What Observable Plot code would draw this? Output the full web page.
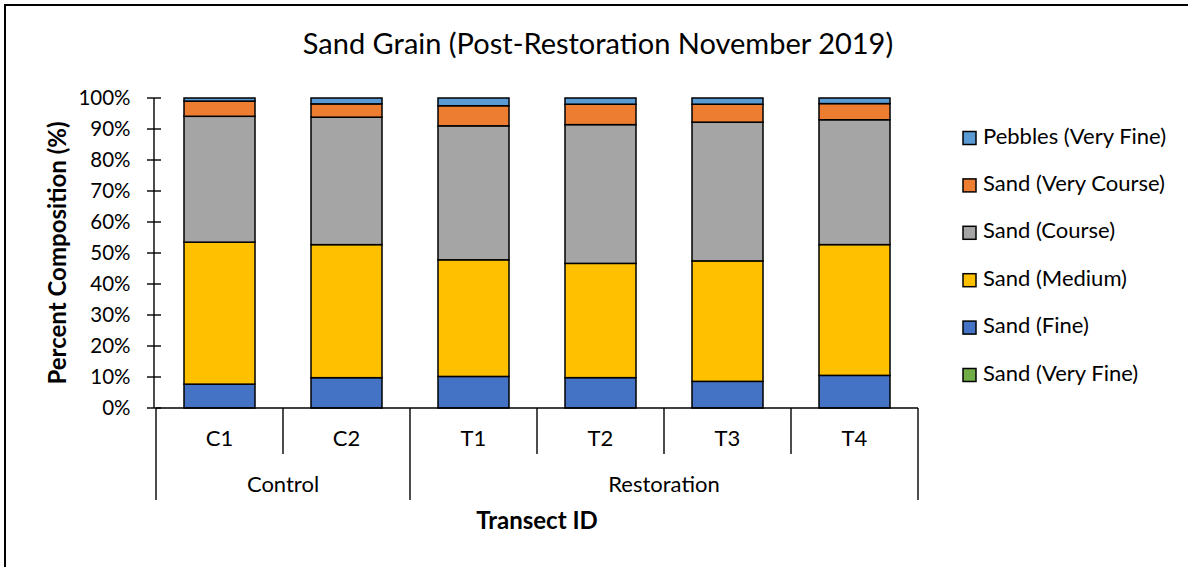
<!DOCTYPE html>
<html>
<head>
<meta charset="utf-8">
<script src="https://cdn.jsdelivr.net/npm/d3@7"></script>
<script src="https://cdn.jsdelivr.net/npm/@observablehq/plot@0.6"></script>
<style>
  html, body { margin: 0; padding: 0; background: #fff; }
  #chart svg { display: block; }
</style>
</head>
<body>
<div id="chart"></div>
<script>
// ---- Data ----
const title = "Sand Grain (Post-Restoration November 2019)";
const yLabel = "Percent Composition (%)";
const xLabel = "Transect ID";
const categories = ["C1", "C2", "T1", "T2", "T3", "T4"];
const groups = ["Control", "Control", "Restoration", "Restoration", "Restoration", "Restoration"];
const series = ["Sand (Very Fine)", "Sand (Fine)", "Sand (Medium)", "Sand (Course)", "Sand (Very Course)", "Pebbles (Very Fine)"];
const colors = ["#70AD47", "#4472C4", "#FFC000", "#A5A5A5", "#ED7D31", "#5B9BD5"];
const sandVeryFine   = [0, 0, 0, 0, 0, 0];
const sandFine       = [7.7, 9.8, 10.2, 9.8, 8.6, 10.5];
const sandMedium     = [45.8, 43.0, 37.7, 36.9, 38.9, 42.1];
const sandCourse     = [40.6, 41.2, 43.3, 44.8, 44.8, 40.2];
const sandVeryCourse = [4.9, 4.3, 6.5, 6.6, 5.8, 5.2];
const pebblesVeryFine = [1.0, 1.9, 2.5, 2.0, 2.0, 1.8];
const yTicks = [0, 0.1, 0.2, 0.3, 0.4, 0.5, 0.6, 0.7, 0.8, 0.9, 1.0];

const seriesValues = [sandVeryFine, sandFine, sandMedium, sandCourse, sandVeryCourse, pebblesVeryFine];
const table = [];
series.forEach((s, i) => categories.forEach((c, j) => table.push({transect: c, series: s, value: seriesValues[i][j]})));

const FONT = "Lato, 'Open Sans', sans-serif";
const W = 1188, H = 567;

const chart = Plot.plot({
  width: W, height: H,
  marginLeft: 154, marginRight: 268, marginTop: 98, marginBottom: 159,
  style: {fontFamily: FONT, background: "#fff", color: "#000"},
  x: {domain: categories, paddingInner: 0.44, paddingOuter: 0.22, axis: null},
  y: {domain: [0, 1], axis: null},
  color: {domain: series, range: colors},
  marks: [
    Plot.barY(table, Plot.stackY({
      x: "transect", y: "value", fill: "series", order: series, offset: "normalize",
      stroke: "#000", strokeWidth: 1.5
    })),
    Plot.axisY({ticks: yTicks, tickFormat: d3.format(".0%"), tickSize: 0, tickPadding: 24,
      fontSize: 20.5, label: null, fill: "#000"})
  ]
});
document.getElementById("chart").appendChild(chart);

// ---- Decorations positioned with Plot's own scales ----
const xs = chart.scale("x"), ys = chart.scale("y"), cs = chart.scale("color");
const svg = d3.select(chart);
const g = svg.append("g").attr("font-family", FONT).attr("fill", "#000").attr("text-anchor", "start");
const axisX = xs.range[0], y0 = ys.apply(0), y1 = ys.apply(1);
const half = (xs.step - xs.bandwidth) / 2;
const bounds = categories.map(c => xs.apply(c) - half).concat([xs.apply(categories[categories.length - 1]) + xs.bandwidth + half]);
const lineCol = "#000";
const LW = 1.4;

// chart area border (left and top visible)
g.append("path").attr("d", `M5,${H} L5,5 L${W},5`).attr("fill", "none").attr("stroke", "#000").attr("stroke-width", 2);

// title
g.append("text").attr("x", 598).attr("y", 47).attr("text-anchor", "middle").attr("dominant-baseline", "middle")
  .attr("font-size", 29).text(title);

// y axis line + crossing ticks
g.append("line").attr("x1", axisX).attr("x2", axisX).attr("y1", y1).attr("y2", y0).attr("stroke", lineCol).attr("stroke-width", LW);
yTicks.forEach(t => g.append("line").attr("x1", axisX - 7).attr("x2", axisX + 7)
  .attr("y1", ys.apply(t)).attr("y2", ys.apply(t)).attr("stroke", lineCol).attr("stroke-width", LW));

// y label
g.append("text").attr("transform", `translate(60,${(y0 + y1) / 2}) rotate(-90)`).attr("text-anchor", "middle")
  .attr("dominant-baseline", "middle").attr("font-weight", "bold").attr("font-size", 24).text(yLabel);

// x axis line
g.append("line").attr("x1", bounds[0]).attr("x2", bounds[bounds.length - 1]).attr("y1", y0).attr("y2", y0)
  .attr("stroke", lineCol).attr("stroke-width", LW);
// category separators
bounds.forEach(b => g.append("line").attr("x1", b).attr("x2", b).attr("y1", y0).attr("y2", y0 + 46)
  .attr("stroke", lineCol).attr("stroke-width", LW));
// category labels
categories.forEach(c => g.append("text").attr("x", xs.apply(c) + xs.bandwidth / 2).attr("y", y0 + 32)
  .attr("text-anchor", "middle").attr("dominant-baseline", "middle").attr("font-size", 22).text(c));
// groups
const groupNames = [...new Set(groups)];
const groupBounds = [];
groupNames.forEach(gn => {
  const idx = groups.map((v, i) => v === gn ? i : -1).filter(i => i >= 0);
  const a = bounds[idx[0]], b = bounds[idx[idx.length - 1] + 1];
  groupBounds.push(a, b);
  g.append("text").attr("x", (a + b) / 2).attr("y", y0 + 78).attr("text-anchor", "middle")
    .attr("dominant-baseline", "middle").attr("font-size", 22).text(gn);
});
[...new Set(groupBounds)].forEach(b => g.append("line").attr("x1", b).attr("x2", b).attr("y1", y0 + 46).attr("y2", y0 + 92)
  .attr("stroke", lineCol).attr("stroke-width", LW));

// x label
g.append("text").attr("x", (bounds[0] + bounds[bounds.length - 1]) / 2).attr("y", y0 + 115).attr("text-anchor", "middle")
  .attr("dominant-baseline", "middle").attr("font-weight", "bold").attr("font-size", 24).text(xLabel);

// legend (top-to-bottom reverse of stack order)
const legendItems = series.slice().reverse();
legendItems.forEach((s, i) => {
  const cy = 138 + i * 47.4;
  g.append("rect").attr("x", 963).attr("y", cy - 6.5).attr("width", 13).attr("height", 13)
    .attr("fill", cs.apply(s)).attr("stroke", "#000").attr("stroke-width", 1.5);
  g.append("text").attr("x", 983).attr("y", cy).attr("text-anchor", "start").attr("dominant-baseline", "middle")
    .attr("font-size", 22).text(s);
});
</script>
</body>
</html>
